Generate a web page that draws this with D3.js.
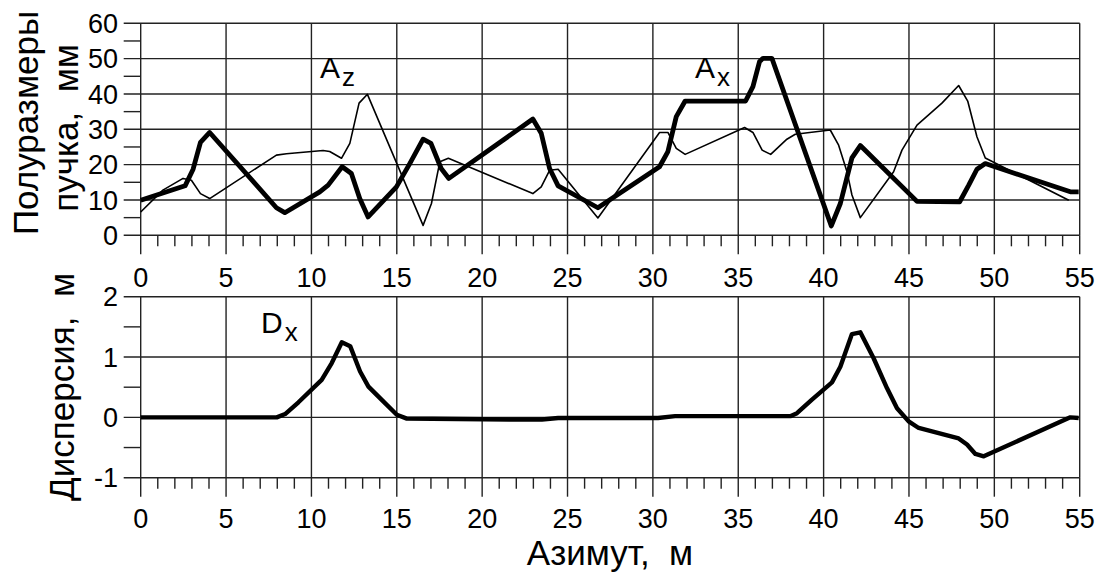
<!DOCTYPE html>
<html>
<head>
<meta charset="utf-8">
<script src="https://cdn.jsdelivr.net/npm/d3@7"></script>
<style>
  html, body { margin: 0; padding: 0; background: #fff; }
  svg { display: block; font-family: "Liberation Sans", Arial, sans-serif; }
</style>
</head>
<body>
<svg id="chart" width="1099" height="572"></svg>
<script>
// beam half-size Ax (thick) — azimuth, m / mm
const axS = [0, 2.6, 3.07, 3.5, 4.04, 7.95, 8.44, 10.49, 10.98, 11.8, 12.34, 12.83, 13.32, 14.98, 15.76, 16.54, 17.0, 17.6, 18.05,
  22.97, 23.46, 23.95, 24.45, 26.78, 30.39, 30.88, 31.37, 31.89, 35.43, 35.86, 36.25, 36.45, 36.97,
  40.45, 40.98, 41.66, 42.15, 45.47, 47.97, 48.5, 48.98, 49.47, 54.45, 54.94];
const axV = [9.9, 14, 18.7, 26.3, 29.1, 7.8, 6.4, 12.3, 14.2, 19.4, 17.5, 10.4, 5.2, 13.7, 20.3, 27.2, 26, 18.9, 16.1,
  32.9, 28.9, 18.9, 14.0, 7.8, 19.4, 23.7, 33.6, 38.0, 38.0, 42.1, 49.2, 50.1, 50.1,
  2.65, 9.0, 21.9, 25.4, 9.6, 9.5, 14.2, 18.7, 20.3, 12.3, 12.3];

// beam half-size Az (thin)
const azS = [0, 1.3, 2.48, 2.97, 3.5, 4.04, 7.95, 8.54, 10.68, 11.07, 11.76, 12.25, 12.79, 13.28, 16.54, 17.03, 17.52, 18.02,
  22.97, 23.46, 23.95, 24.45, 26.78, 30.39, 30.88, 31.37, 31.89, 35.37, 35.86, 36.4, 36.9, 37.85, 38.34,
  40.39, 40.88, 41.37, 41.66, 42.15, 44.1, 44.59, 45.47, 46.93, 47.91, 48.44, 48.98, 49.47, 54.36];
const azV = [6.6, 12.8, 16.1, 15.6, 11.8, 10.4, 22.7, 23.1, 24.0, 23.7, 21.8, 26.0, 37.4, 39.9, 2.8, 9.0, 20.8, 21.8,
  11.8, 13.7, 18.4, 18.7, 4.9, 29.1, 29.1, 24.6, 22.9, 30.5, 29.1, 24.1, 22.9, 27.2, 28.6,
  29.8, 25.5, 18.0, 11.4, 5.0, 18.0, 24.1, 31.2, 37.4, 42.4, 38.0, 27.9, 21.9, 9.9];

// dispersion Dx, m
const dxS = [0, 7.97, 8.46, 9.24, 10.6, 11.19, 11.78, 12.27, 12.85, 13.34, 14.12, 15.0, 15.59, 21.6, 23.5, 24.45, 30.3, 31.3,
  38.05, 38.44, 39.3, 40.49, 40.98, 41.66, 42.15, 42.93, 43.71, 44.3, 44.98, 45.57, 47.91, 48.4, 48.89, 49.38, 54.45, 54.94];
const dxV = [0, 0, 0.055, 0.25, 0.62, 0.9, 1.245, 1.18, 0.76, 0.51, 0.29, 0.044, -0.02, -0.035, -0.035, -0.01, -0.01, 0.02,
  0.02, 0.07, 0.29, 0.58, 0.84, 1.38, 1.41, 0.98, 0.485, 0.15, -0.066, -0.176, -0.35, -0.45, -0.606, -0.645, 0, -0.01];

const xTicks = d3.range(0, 56, 5);
const topTicks = [0, 10, 20, 30, 40, 50, 60];
const botTicks = [-1, 0, 1, 2];

const svg = d3.select('#chart');
const left = 140.7, right = 1079.7;
const gridColor = '#222';

const x = d3.scaleLinear().domain([0, 55]).range([left, right]);
const yTop = d3.scaleLinear().domain([0, 60]).range([235.3, 23.3]);
const yBot = d3.scaleLinear().domain([-1, 2]).range([477.7, 296.7]);

function panel(y, yMajor, yMinorStep, labelY) {
  const g = svg.append('g');
  const [y0, y1] = y.domain();
  const bottom = y(y0), top = y(y1);

  // vertical grid
  g.selectAll('.vg').data(xTicks).enter().append('line')
    .attr('x1', d => x(d)).attr('x2', d => x(d))
    .attr('y1', top).attr('y2', bottom)
    .attr('stroke', gridColor).attr('stroke-width', 1.4);

  // horizontal grid + left ticks
  g.selectAll('.hg').data(yMajor).enter().append('line')
    .attr('x1', left - 17).attr('x2', right)
    .attr('y1', d => y(d)).attr('y2', d => y(d))
    .attr('stroke', gridColor).attr('stroke-width', 1.4);

  const minorY = d3.range(y0 + yMinorStep, y1, yMinorStep * 2);
  g.selectAll('.my').data(minorY).enter().append('line')
    .attr('x1', left - 17).attr('x2', left)
    .attr('y1', d => y(d)).attr('y2', d => y(d))
    .attr('stroke', gridColor).attr('stroke-width', 1.4);

  // bottom ticks
  g.selectAll('.mx').data(d3.range(0, 56)).enter().append('line')
    .attr('x1', d => x(d)).attr('x2', d => x(d))
    .attr('y1', bottom).attr('y2', d => bottom + (d % 5 === 0 ? 19 : 11))
    .attr('stroke', gridColor).attr('stroke-width', 1.4);

  // y labels
  g.selectAll('.yl').data(yMajor).enter().append('text')
    .attr('x', 118).attr('y', d => y(d)).attr('dy', '0.36em')
    .attr('text-anchor', 'end').attr('font-size', 27)
    .text(d => d);

  // x labels
  g.selectAll('.xl').data(xTicks).enter().append('text')
    .attr('x', d => x(d)).attr('y', labelY)
    .attr('text-anchor', 'middle').attr('font-size', 27)
    .text(d => d);
  return g;
}

panel(yTop, topTicks, 5, 287);
panel(yBot, botTicks, 0.5, 528);

const lineTop = d3.line().x(d => x(d[0])).y(d => yTop(d[1]));
const lineBot = d3.line().x(d => x(d[0])).y(d => yBot(d[1]));

svg.append('path').datum(d3.zip(azS, azV))
  .attr('d', lineTop).attr('fill', 'none')
  .attr('stroke', '#000').attr('stroke-width', 1.6).attr('stroke-linejoin', 'round');

svg.append('path').datum(d3.zip(axS, axV))
  .attr('d', lineTop).attr('fill', 'none')
  .attr('stroke', '#000').attr('stroke-width', 4.8).attr('stroke-linejoin', 'round');

svg.append('path').datum(d3.zip(dxS, dxV))
  .attr('d', lineBot).attr('fill', 'none')
  .attr('stroke', '#000').attr('stroke-width', 4.4).attr('stroke-linejoin', 'round');

// curve labels
function subLabel(px, py, main, sub) {
  const t = svg.append('text').attr('x', px).attr('y', py).attr('font-size', 30);
  t.append('tspan').text(main);
  t.append('tspan').attr('font-size', 26).attr('dx', 2).attr('dy', 8).text(sub);
}
subLabel(320, 78, 'A', 'z');
subLabel(695, 78, 'A', 'x');
subLabel(261, 333, 'D', 'x');

// axis titles
svg.append('text').attr('transform', 'translate(38,123) rotate(-90)')
  .attr('text-anchor', 'middle').attr('font-size', 35).text('Полуразмеры');
svg.append('text').attr('transform', 'translate(78,128) rotate(-90)')
  .attr('text-anchor', 'middle').attr('font-size', 35)
  .style('white-space', 'pre').text('пучка,  мм');
svg.append('text').attr('transform', 'translate(74,387) rotate(-90)')
  .attr('text-anchor', 'middle').attr('font-size', 35)
  .style('white-space', 'pre').text('Дисперсия,  м');
svg.append('text').attr('x', 610).attr('y', 565)
  .attr('text-anchor', 'middle').attr('font-size', 35)
  .style('white-space', 'pre').text('Азимут,  м');
</script>
</body>
</html>
